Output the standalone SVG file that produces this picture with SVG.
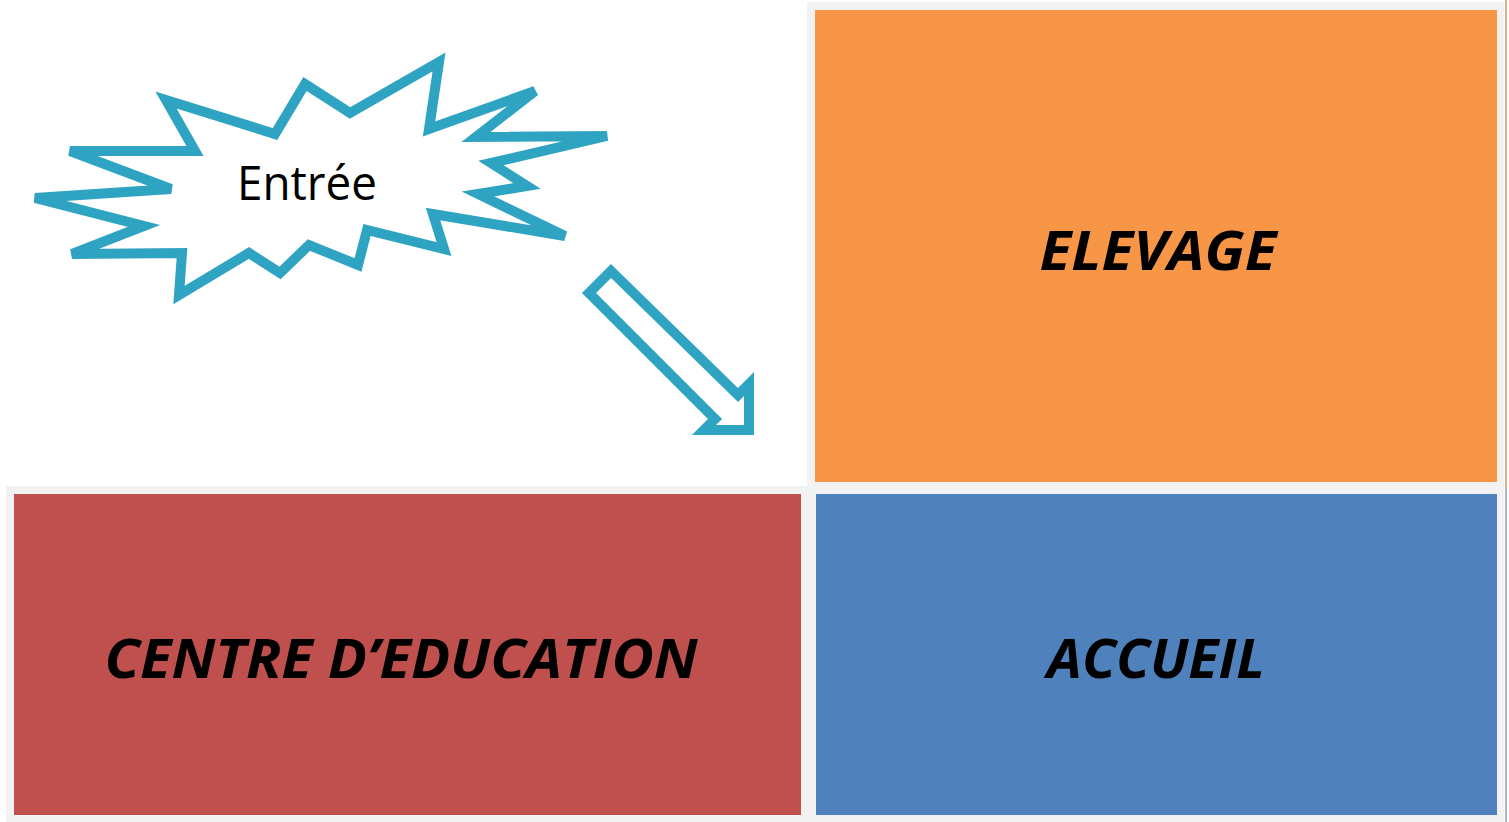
<svg xmlns="http://www.w3.org/2000/svg" width="1509" height="822" viewBox="0 0 1509 822">
  <style>
    .teal { fill: #ffffff; stroke: #2fa4c2; stroke-width: 10; stroke-linejoin: miter; stroke-miterlimit: 4; }
    .lbl { font-family: "Open Sans", "Liberation Sans", sans-serif; font-weight: bold; font-style: italic; font-size: 54px; fill: #000000; text-anchor: middle; }
    .entree { font-family: "Open Sans", "Liberation Sans", sans-serif; font-size: 48px; fill: #000000; }
  </style>
  <rect x="0" y="0" width="1509" height="822" fill="#ffffff"/>
  <path d="M807,2 H1504 V822 H6 V486 H807 Z" fill="#f2f2f2"/>
  <rect x="1505" y="0" width="2" height="488" fill="#d9b08e"/>
  <rect x="1505" y="488" width="2" height="334" fill="#aab6c7"/>

  <g id="elevage">
    <rect x="815" y="10" width="682" height="472" fill="#f79646"/>
    <text class="lbl" x="1158" y="270" textLength="237" lengthAdjust="spacingAndGlyphs">ELEVAGE</text>
  </g>
  <g id="centre">
    <rect x="14" y="494" width="787" height="321" fill="#c0504d"/>
    <text class="lbl" x="401" y="678" textLength="593" lengthAdjust="spacingAndGlyphs">CENTRE D’EDUCATION</text>
  </g>
  <g id="accueil">
    <rect x="816" y="494" width="681" height="321" fill="#4f81bd"/>
    <text class="lbl" x="1156" y="678" textLength="218" lengthAdjust="spacingAndGlyphs">ACCUEIL</text>
  </g>

  <g id="entree">
    <polygon class="teal" points="166,100 275,134 305,84 350,113 439,62 429,129 535,91 476,137 607,136 491,163 527,186 478,194 565,236 433,214 444,249 367,230 358,265 309,245 280,273 249,253 179,295 182,253 72,254 144,226 35,198 171,189 70,151 195,151"/>
    <text class="entree" x="237" y="200" textLength="140" lengthAdjust="spacingAndGlyphs">Entrée</text>
  </g>

  <g id="connectors">
    <polygon class="teal" stroke-width="11" points="589,293 611,271 738,395 749,384 749,430 704,430 715,419"/>
  </g>
</svg>
